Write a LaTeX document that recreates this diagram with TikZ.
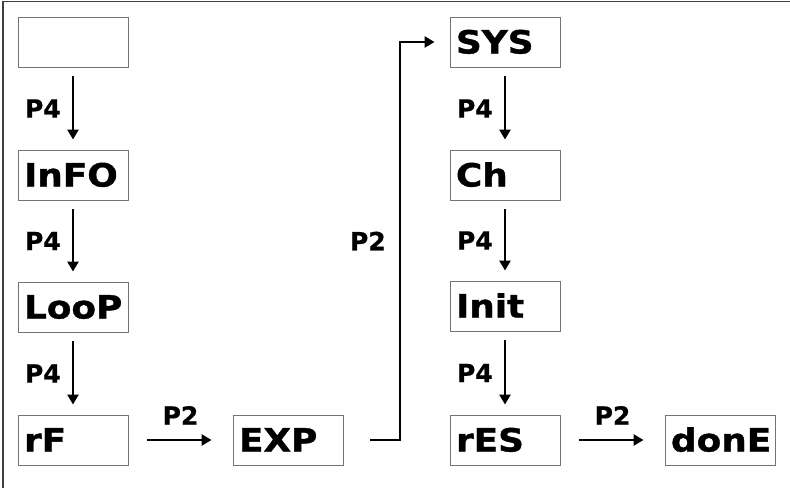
\documentclass[tikz,border=0pt]{standalone}
\usepackage{fontspec}
\setmainfont{DejaVu Sans}
\newfontfamily\boxFont[FakeStretch=1.12, FakeBold=1.2]{DejaVu Sans}
\newfontfamily\keyFont[FakeBold=0.8]{DejaVu Sans}
\usepackage{tikz}
\usetikzlibrary{arrows.meta}

\begin{document}
\begin{tikzpicture}[x=1pt, y=-1pt,
	stateBox/.style={draw=black!55, line width=0.9pt, minimum width=110pt, minimum height=50pt,
		text width=98pt, inner xsep=6pt, inner ysep=0pt, align=left, text height=23pt, text depth=0pt,
		font=\boxFont\bfseries\fontsize{32}{32}\selectfont},
	flow/.style={line width=2.6pt, -{Triangle[length=10pt, width=11pt]}},
	keyLabel/.style={inner sep=2pt, font=\keyFont\bfseries\fontsize{25}{25}\selectfont}]
			\useasboundingbox (0,0) rectangle (790,488);
			% frame (top and left edge only)
			\draw[black!75, line width=1.6pt] (3,488) -- (3,1.5) -- (790,1.5);
			\foreach \x/\y/\name/\txt in {73/42/blank/{}, 73/175/info/InFO, 73/307/loop/LooP, 73/440/rf/rF, 288/440/exp/EXP,
				505/42/sys/SYS, 505/175/ch/Ch, 505/306/init/Init, 505/440/res/rES, 720/440/done/donE}
			{
				\node[stateBox] (\name) at (\x,\y) {\txt};
			}
			\foreach \startName/\endName in {blank/info, info/loop, loop/rf, sys/ch, ch/init, init/res}
			{
				\draw[flow, shorten <=9pt, shorten >=10pt] (\startName) -- node[keyLabel, left=9pt] {P4} (\endName);
			}
			\draw[flow, shorten <=19pt, shorten >=21pt] (rf) -- node[keyLabel, above=12pt] {P2} (exp);
			\draw[flow, shorten <=19pt, shorten >=21pt] (res) -- node[keyLabel, above=12pt] {P2} (done);
			\coordinate (riseTop) at (400,42);
			\draw[flow, shorten <=27pt, shorten >=15pt] (exp.east) -| node[keyLabel, pos=0.75, left=11pt] {P2} (riseTop) -- (sys.west);
		\end{tikzpicture}
\end{document}
